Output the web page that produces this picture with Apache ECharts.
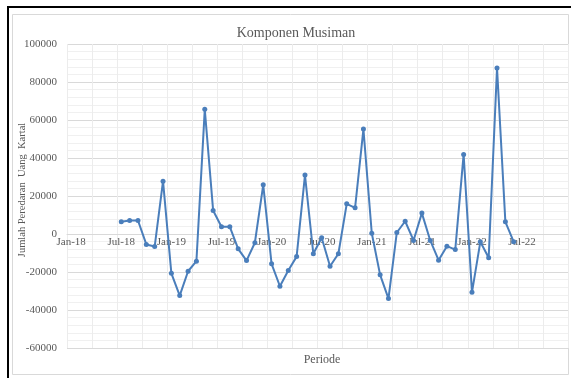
<!DOCTYPE html>
<html><head><meta charset="utf-8">
<script src="https://cdn.jsdelivr.net/npm/echarts@6/dist/echarts.min.js"></script>
<style>html,body{margin:0;padding:0;background:#fff}#c{width:571px;height:378px}</style>
</head><body><div id="c"></div>
<script>
const months = [
 'Jan-18','Feb-18','Mar-18','Apr-18','May-18','Jun-18','Jul-18','Aug-18','Sep-18','Oct-18','Nov-18','Dec-18',
 'Jan-19','Feb-19','Mar-19','Apr-19','May-19','Jun-19','Jul-19','Aug-19','Sep-19','Oct-19','Nov-19','Dec-19',
 'Jan-20','Feb-20','Mar-20','Apr-20','May-20','Jun-20','Jul-20','Aug-20','Sep-20','Oct-20','Nov-20','Dec-20',
 'Jan-21','Feb-21','Mar-21','Apr-21','May-21','Jun-21','Jul-21','Aug-21','Sep-21','Oct-21','Nov-21','Dec-21',
 'Jan-22','Feb-22','Mar-22','Apr-22','May-22','Jun-22','Jul-22','Aug-22','Sep-22','Oct-22','Nov-22','Dec-22'
];
const firstMonth = 'Jul-18';
const seasonal = [
 6400, 7100, 7100, -5500, -6600, 27800,
 -20700, -32400, -19600, -14300, 65600, 12400, 3800, 3800, -7800, -14000, -4600, 25900,
 -15700, -27500, -19200, -11900, 31000, -10400, -2000, -17000, -10400, 15900, 13800, 55200,
 400, -21500, -34000, 800, 6700, -3400, 11000, -3400, -13800, -6400, -8200, 41900,
 -30700, -4100, -12500, 87400, 6400, -4100
];
const yMin = -60000, yMax = 100000, yStep = 20000;
const titleText = 'Komponen Musiman';
const xTitle = 'Periode';
const yTitle = 'Jumlah Peredaran  Uang  Kartal';

const startIdx = months.indexOf(firstMonth);
const seriesData = months.map((m, i) => {
  const k = i - startIdx;
  return (k >= 0 && k < seasonal.length) ? seasonal[k] : null;
});

const gridTop = 44, gridBottom = 30, H = 378;
const plotH = H - gridTop - gridBottom;
// place the category axis on the zero line
const zeroOffset = -plotH * (0 - yMin) / (yMax - yMin);

const serif = 'Liberation Serif';
const grey = '#595959';
const blue = '#4A7EBB';
const chart = echarts.init(document.getElementById('c'), null, {renderer: 'canvas'});
chart.setOption({
  animation: false,
  backgroundColor: '#fff',
  title: [
    {text: titleText, left: 291, top: 21, textAlign: 'center',
     textStyle: {fontFamily: serif, fontSize: 14, fontWeight: 'normal', color: grey}},
    {text: xTitle, left: 317, top: 349, textAlign: 'center',
     textStyle: {fontFamily: serif, fontSize: 12, fontWeight: 'normal', color: grey}}
  ],
  grid: {left: 67, right: 3, top: gridTop, bottom: gridBottom, containLabel: false},
  xAxis: [{
    type: 'category', data: months, boundaryGap: true, position: 'bottom',
    axisLine: {show: false},
    axisTick: {show: false},
    axisLabel: {show: false},
    splitLine: {show: true, interval: 2, lineStyle: {color: '#ececec', width: 1}}
  }, {
    type: 'category', data: months, boundaryGap: true, position: 'bottom', offset: zeroOffset,
    axisLine: {show: true, onZero: false, lineStyle: {color: '#d9d9d9', width: 1}},
    axisTick: {show: false},
    axisLabel: {interval: 5, color: grey, fontFamily: serif, fontSize: 11, margin: 3},
    splitLine: {show: false}
  }],
  yAxis: {
    type: 'value', min: yMin, max: yMax, interval: yStep,
    axisLine: {show: false}, axisTick: {show: false},
    axisLabel: {color: grey, fontFamily: serif, fontSize: 11, margin: 10, formatter: v => String(v)},
    splitLine: {show: true, lineStyle: {color: '#d9d9d9', width: 1}},
    minorTick: {show: false, splitNumber: 5},
    minorSplitLine: {show: true, lineStyle: {color: '#f0f0f0', width: 1}}
  },
  series: [{
    type: 'line', data: seriesData, connectNulls: false, xAxisIndex: 0,
    symbol: 'circle', symbolSize: 5, showSymbol: true,
    lineStyle: {color: blue, width: 2},
    itemStyle: {color: blue}
  }],
  graphic: [
    {type: 'rect', shape: {x: 12.5, y: 14.5, width: 556, height: 360}, silent: true,
     style: {fill: 'none', stroke: '#d9d9d9', lineWidth: 1}, z: -1},
    {type: 'line', shape: {x1: 7, y1: 7, x2: 571, y2: 7}, style: {stroke: '#000', lineWidth: 2}},
    {type: 'line', shape: {x1: 8, y1: 6, x2: 8, y2: 378}, style: {stroke: '#000', lineWidth: 2}},
    {type: 'text', x: 22, y: 190, rotation: Math.PI / 2,
     style: {text: yTitle, font: '10.5px "Liberation Serif"', fill: grey, textAlign: 'center', textVerticalAlign: 'middle'}}
  ]
});
</script></body></html>
